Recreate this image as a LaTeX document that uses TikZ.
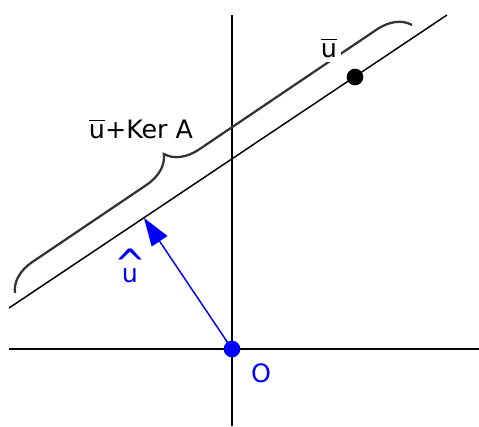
\documentclass[tikz,border=0pt]{standalone}
\usepackage{amsmath}
\usepackage{graphicx}
\usepackage{fontspec}
\setmainfont{DejaVu Sans}
\usepackage{tikz}
\usetikzlibrary{arrows.meta,decorations.pathreplacing}
\definecolor{vecblue}{HTML}{0000FF}
\definecolor{bracegray}{HTML}{333333}
\newcommand{\bighat}[1]{\ooalign{\hfil\raisebox{2.6pt}{\scalebox{1.5}[1.6]{\textasciicircum}}\hfil\cr\hfil#1\hfil\cr}}

\begin{document}
\begin{tikzpicture}[x=0.75pt,y=-0.75pt,
    axis/.style={black,line width=1.3pt},
    kerline/.style={black,line width=1.1pt},
    kerbrace/.style={bracegray,line width=1.7pt,decorate,
      decoration={brace,amplitude=24pt,aspect=0.42}},
    lbl/.style={font=\fontsize{19}{22}\selectfont,inner sep=1pt},
    dot/.style={circle,fill,inner sep=0pt,minimum size=12.5pt}]
  \useasboundingbox (0,0) rectangle (479,426);
  % axes
  \coordinate (xl) at (9,349);
  \coordinate (xr) at (479,349);
  \coordinate (yt) at (232,15);
  \coordinate (yb) at (232,426);
  \draw[axis] (xl) -- (xr);
  \draw[axis] (yt) -- (yb);
  % the line ubar + Ker A
  \coordinate (l0) at (9,308);
  \coordinate (l1) at (447,15);
  \draw[kerline] (l0) -- (l1);
  % brace above it
  \coordinate (b0) at (15,293);
  \coordinate (b1) at (412,25);
  \draw[kerbrace] (b0) -- (b1);
  \node[lbl,fill=white,inner sep=3pt] (ubar) at (329,48) {$\overline{\mbox{u}}$};
  \node[lbl] (ker) at (141,129) {$\overline{\mbox{u}}$+Ker A};
  % vector to the foot of the perpendicular
  \coordinate (O) at (232,349);
  \coordinate (H) at (144,218);
  \draw[vecblue,line width=1.1pt,-{Triangle[length=21pt,width=14pt]}] (O) -- (H);
  \node[dot,black] (ubarpt) at (355,77) {};
  \node[dot,vecblue] (Odot) at (O) {};
  \node[lbl,text=vecblue] (olbl) at (261,373) {O};
  \node[lbl,text=vecblue,anchor=base] (uhat) at (130,282) {\bighat{u}};
\end{tikzpicture}
\end{document}
